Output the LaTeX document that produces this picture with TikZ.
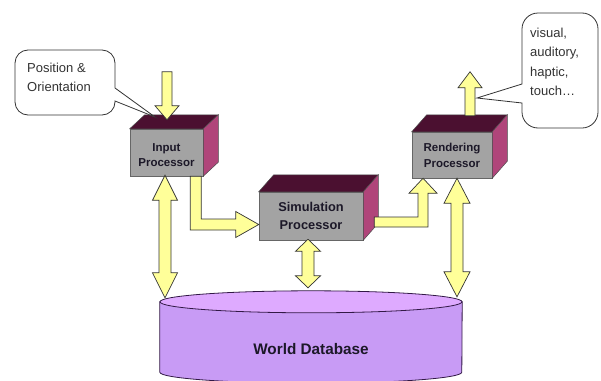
\documentclass[tikz,border=0pt]{standalone}
\usepackage{fontspec}
\setmainfont{Liberation Sans}
\usetikzlibrary{calc}

\definecolor{procgray}{RGB}{163,163,163}
\definecolor{proctop}{RGB}{75,16,48}
\definecolor{procside}{RGB}{176,69,122}
\definecolor{arrowfill}{RGB}{255,255,153}
\definecolor{dbbody}{RGB}{200,155,245}
\definecolor{dbtop}{RGB}{222,170,255}
\definecolor{dbedge}{RGB}{50,25,70}
\definecolor{labelink}{RGB}{28,24,40}

\tikzset{
  proc/.style={rectangle, fill=procgray, draw=black!60, line width=0.5pt,
    inner sep=0pt, align=center, text=labelink},
  proclabel/.style={align=center, inner sep=0pt, text=labelink},
  blockarrow/.style={fill=arrowfill, draw=black!80, line width=0.7pt, line join=miter},
  callout/.style={fill=white, draw=black!80, line width=0.8pt},
  calltext/.style={align=left, inner sep=0pt, anchor=west, text=black!80},
}

% 3-D box faces behind a processor node: #1 node, (#2,#3) depth offset
\newcommand\cuboidfaces[3]{%
  \filldraw[fill=proctop, draw=black!70, line width=0.5pt]
    (#1.north west) -- ($(#1.north west)+(#2,#3)$) -- ($(#1.north east)+(#2,#3)$)
    -- (#1.north east) -- cycle;
  \filldraw[fill=procside, draw=black!70, line width=0.5pt]
    (#1.north east) -- ($(#1.north east)+(#2,#3)$) -- ($(#1.south east)+(#2,#3)$)
    -- (#1.south east) -- cycle;}

% vertical double-headed block arrow from #1 (upper tip) to #2 (lower tip)
% #3 head length, #4 half head width, #5 half shaft width
\newcommand\vdoublearrow[5]{%
  \draw[blockarrow] let \p1=(#1), \p2=(#2) in
    (\x1,\y1) -- (\x1+#4,\y1-#3) -- (\x1+#5,\y1-#3) -- (\x1+#5,\y2+#3)
    -- (\x1+#4,\y2+#3) -- (\x1,\y2) -- (\x1-#4,\y2+#3) -- (\x1-#5,\y2+#3)
    -- (\x1-#5,\y1-#3) -- (\x1-#4,\y1-#3) -- cycle;}

\begin{document}
\begin{tikzpicture}[x=1pt, y=-1pt]
\clip (0,0) rectangle (601,380);
\fill[white] (0,0) rectangle (601,380);

% World database cylinder
\node[minimum width=302pt, minimum height=70pt, inner sep=0pt] (db) at (311,337) {};
\filldraw[fill=dbbody, draw=dbedge, line width=0.8pt]
  (db.north west) -- (db.south west) arc[start angle=180, end angle=360,
  x radius=151pt, y radius=11pt] -- (db.north east) -- cycle;
\filldraw[fill=dbtop, draw=dbedge, line width=0.8pt]
  (db.north) ellipse[x radius=151pt, y radius=11pt];
\node[font=\bfseries\fontsize{15.3}{18}\selectfont, text=labelink] (dblabel)
  at ($(db.center)+(0,12)$) {World Database};

% processors
\node[proc, minimum width=73pt, minimum height=47pt] (in) at (166.5,152.5) {};
\node[proc, minimum width=104pt, minimum height=48pt] (sim) at (311,216) {};
\node[proc, minimum width=80pt, minimum height=46pt] (rend) at (452,155) {};
\cuboidfaces{in}{15}{-14}
\cuboidfaces{sim}{15}{-17}
\cuboidfaces{rend}{15}{-17}
\node[proclabel, font=\bfseries\fontsize{11.5}{15}\selectfont] (inLabel)
  at ($(in.center)+(0,3)$) {Input\\Processor};
\node[proclabel, font=\bfseries\fontsize{12.8}{18}\selectfont] (simLabel)
  at (sim.center) {Simulation\\Processor};
\node[proclabel, font=\bfseries\fontsize{11.5}{16}\selectfont] (rendLabel)
  at (rend.center) {Rendering\\Processor};

% tracker input into the input processor
\draw[blockarrow] let \p1=(in.north) in
  (\x1+0.5pt,\y1+9pt) -- (\x1+12.5pt,\y1+23pt) -- (\x1+5.5pt,\y1+23pt)
  -- (\x1+5.5pt,\y1+57pt) -- (\x1-4.5pt,\y1+57pt) -- (\x1-4.5pt,\y1+23pt)
  -- (\x1-11.5pt,\y1+23pt) -- cycle;

% output from the rendering processor
\draw[blockarrow] let \p1=(rend.north) in
  (\x1+18pt,\y1+60pt) -- (\x1+30pt,\y1+44pt) -- (\x1+23pt,\y1+44pt)
  -- (\x1+23pt,\y1+16pt) -- (\x1+13pt,\y1+16pt) -- (\x1+13pt,\y1+44pt)
  -- (\x1+6pt,\y1+44pt) -- cycle;

% input -> simulation
\draw[blockarrow] let \p1=(in.south east), \p2=(sim.west) in
  (\x1-13pt,\y1) -- (\x1-2pt,\y1) -- (\x1-2pt,\y2-3pt) -- (\x2-23pt,\y2-3pt)
  -- (\x2-23pt,\y2+4.5pt) -- (\x2,\y2-8.5pt) -- (\x2-23pt,\y2-21.5pt)
  -- (\x2-23pt,\y2-14pt) -- (\x1-13pt,\y2-14pt) -- cycle;

% simulation -> rendering
\draw[blockarrow] let \p1=(sim.east), \p2=(rend.south) in
  (\x1+11pt,\y1-1pt) -- (\x2-34pt,\y1-1pt) -- (\x2-34pt,\y2-15pt)
  -- (\x2-43pt,\y2-15pt) -- (\x2-29pt,\y2) -- (\x2-15pt,\y2-15pt)
  -- (\x2-24pt,\y2-15pt) -- (\x2-24pt,\y1-11pt) -- (\x1+11pt,\y1-11pt) -- cycle;

% processors <-> world database
\coordinate (dbA) at ($(db.north)+(-146,-4)$);
\coordinate (dbB) at ($(db.north)+(-3,-14)$);
\coordinate (dbC) at ($(db.north)+(146,-5)$);
\coordinate (inB) at ($(in.south)+(-1.5,-1)$);
\coordinate (simB) at ($(sim.south)+(-3,-1)$);
\coordinate (rendB) at ($(rend.south)+(5,0)$);
\vdoublearrow{inB}{dbA}{25pt}{12.5pt}{6pt}
\vdoublearrow{simB}{dbB}{12pt}{12.5pt}{6pt}
\vdoublearrow{rendB}{dbC}{25pt}{13pt}{6pt}

% callouts
\draw[callout] (115,88) -- (155,117) -- (115,101) [rounded corners=13pt]
  -- (115,115) -- (15,115) -- (15,50) -- (115,50) [sharp corners] -- cycle;
\node[calltext, font=\fontsize{13}{19}\selectfont] (posText) at (27,77)
  {Position \&\\Orientation};

\draw[callout] (522,103) -- (477,98) -- (522,84) [rounded corners=16pt]
  -- (522,13) -- (598,13) -- (598,128) -- (522,128) [sharp corners] -- cycle;
\node[calltext, font=\fontsize{13}{19.3}\selectfont] (outText) at (530,62)
  {visual,\\auditory,\\haptic,\\touch\ldots};
\end{tikzpicture}
\end{document}
